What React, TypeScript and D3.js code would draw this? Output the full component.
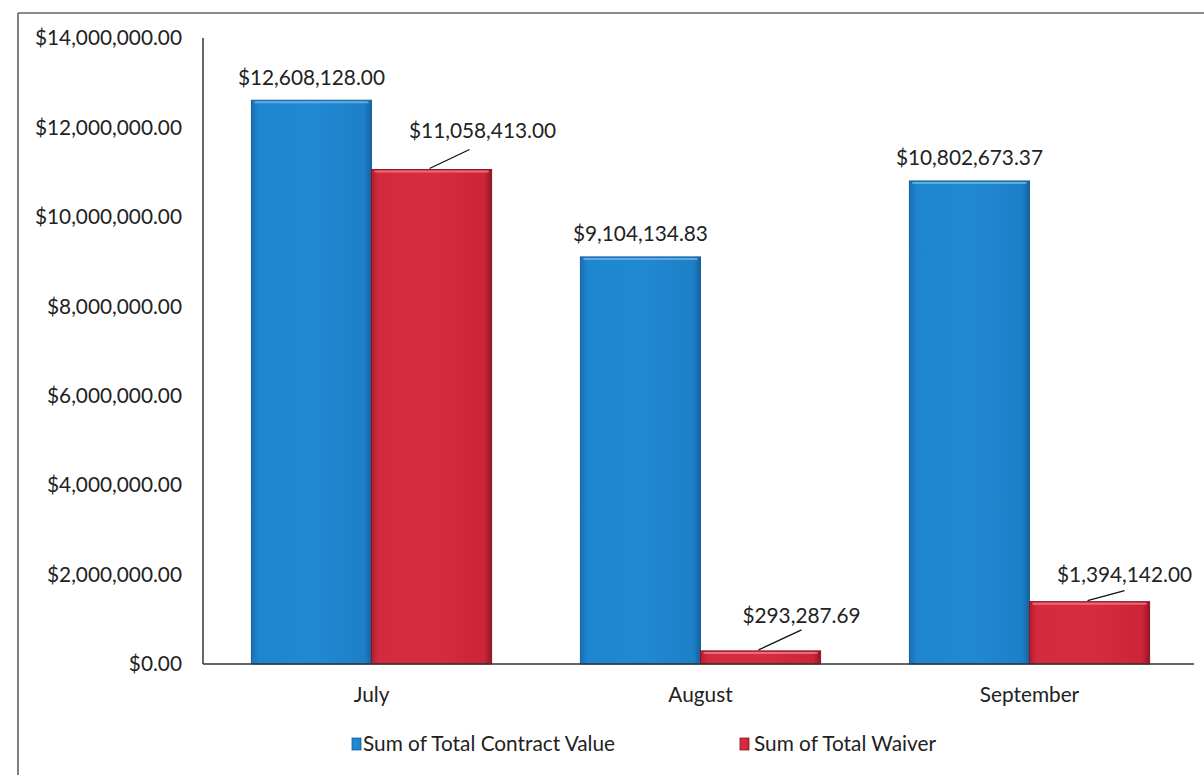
import React from "react";
import * as d3 from "d3";

const months = ["July", "August", "September"];
const seriesNames = ["Sum of Total Contract Value", "Sum of Total Waiver"];
const contractValues = [12608128.0, 9104134.83, 10802673.37];
const waiverValues = [11058413.0, 293287.69, 1394142.0];
const yTicks = [0, 2000000, 4000000, 6000000, 8000000, 10000000, 12000000, 14000000];

const W = 1204;
const H = 775;
const FONT = "Lato, 'Open Sans', sans-serif";
const FS = 20.8;

export default function App() {
  const y = d3.scaleLinear().domain([0, 14000000]).range([664, 38]);
  const x0 = d3.scaleBand<string>().domain(months).range([207, 1194]).paddingInner(0.27).paddingOuter(0.135);
  const x1 = d3.scaleBand<string>().domain(seriesNames).range([0, x0.bandwidth()]);
  const fmt = d3.format("$,.2f");
  const series = [
    { name: seriesNames[0], values: contractValues, fill: "url(#gBlue)", edge: "#16609c", hi: "#6fb6e6" },
    { name: seriesNames[1], values: waiverValues, fill: "url(#gRed)", edge: "#8e1422", hi: "#ee7d88" },
  ];
  // label placement relative to bar top centre (waiver labels use leader lines)
  const waiverLabel = [
    { dx: 51, dy: -39, lx: 38, ly: -20 },
    { dx: 41, dy: -35, lx: 41, ly: -21 },
    { dx: 35, dy: -27, lx: 35, ly: -11 },
  ];

  return (
    <svg width={W} height={H} style={{ position: "absolute", left: 0, top: 0, background: "#fff" }} fontFamily={FONT}>
      <defs>
        <linearGradient id="gBlue" x1="0" x2="1" y1="0" y2="0">
          <stop offset="0" stopColor="#1a6fb3" />
          <stop offset="0.06" stopColor="#1e86cf" />
          <stop offset="0.5" stopColor="#2189d2" />
          <stop offset="0.94" stopColor="#1c80c8" />
          <stop offset="1" stopColor="#15629f" />
        </linearGradient>
        <linearGradient id="gRed" x1="0" x2="1" y1="0" y2="0">
          <stop offset="0" stopColor="#b01d2e" />
          <stop offset="0.06" stopColor="#d42a3d" />
          <stop offset="0.5" stopColor="#d62c3f" />
          <stop offset="0.94" stopColor="#cc2538" />
          <stop offset="1" stopColor="#951726" />
        </linearGradient>
      </defs>
      {/* outer border */}
      <line x1={18} y1={13} x2={W} y2={13} stroke="#666" strokeWidth={1.5} />
      <line x1={18} y1={13} x2={18} y2={H} stroke="#555" strokeWidth={1.5} />

      {/* y axis ticks */}
      {yTicks.map((t) => (
        <text key={t} x={182} y={y(t)} dy="0.35em" textAnchor="end" fontSize={FS} fill="#222">
          {fmt(t)}
        </text>
      ))}

      {/* bars */}
      {months.map((m, i) =>
        series.map((s, j) => {
          const v = s.values[i];
          const bx = (x0(m) as number) + (x1(s.name) as number);
          const bw = x1.bandwidth();
          const top = y(v);
          const h = y(0) - top;
          return (
            <g key={m + j}>
              <rect x={bx} y={top} width={bw} height={h} fill={s.fill} stroke={s.edge} strokeWidth={1} />
              <line x1={bx + 3} x2={bx + bw - 3} y1={top + 2} y2={top + 2} stroke={s.hi} strokeWidth={2} opacity={0.8} />
            </g>
          );
        })
      )}

      {/* axes lines */}
      <line x1={203} y1={38} x2={203} y2={664} stroke="#333" strokeWidth={1.5} />
      <line x1={203} y1={664} x2={1194} y2={664} stroke="#333" strokeWidth={1.5} />

      {/* data labels */}
      {months.map((m, i) => {
        const bw = x1.bandwidth();
        const cBlue = (x0(m) as number) + (x1(seriesNames[0]) as number) + bw / 2;
        const cRed = (x0(m) as number) + (x1(seriesNames[1]) as number) + bw / 2;
        const topB = y(contractValues[i]);
        const topR = y(waiverValues[i]);
        const L = waiverLabel[i];
        return (
          <g key={"lab" + m}>
            <text x={cBlue} y={topB - 23} dy="0.35em" textAnchor="middle" fontSize={FS} fill="#222">
              {fmt(contractValues[i])}
            </text>
            <line x1={cRed - 2} y1={topR - 1} x2={cRed + L.lx} y2={topR + L.ly} stroke="#111" strokeWidth={1.3} />
            <text x={cRed + L.dx} y={topR + L.dy} dy="0.35em" textAnchor="middle" fontSize={FS} fill="#222">
              {fmt(waiverValues[i])}
            </text>
          </g>
        );
      })}

      {/* category labels */}
      {months.map((m) => (
        <text key={"c" + m} x={(x0(m) as number) + x0.bandwidth() / 2} y={695} dy="0.35em" textAnchor="middle" fontSize={FS} fill="#222">
          {m}
        </text>
      ))}

      {/* legend */}
      <g>
        <rect x={352} y={738} width={9} height={12} fill="url(#gBlue)" stroke="#16609c" strokeWidth={0.8} />
        <text x={363} y={744} dy="0.35em" fontSize={FS} fill="#222">{seriesNames[0]}</text>
        <rect x={740} y={738} width={9} height={12} fill="url(#gRed)" stroke="#8e1422" strokeWidth={0.8} />
        <text x={754} y={744} dy="0.35em" fontSize={FS} fill="#222">{seriesNames[1]}</text>
      </g>
    </svg>
  );
}
